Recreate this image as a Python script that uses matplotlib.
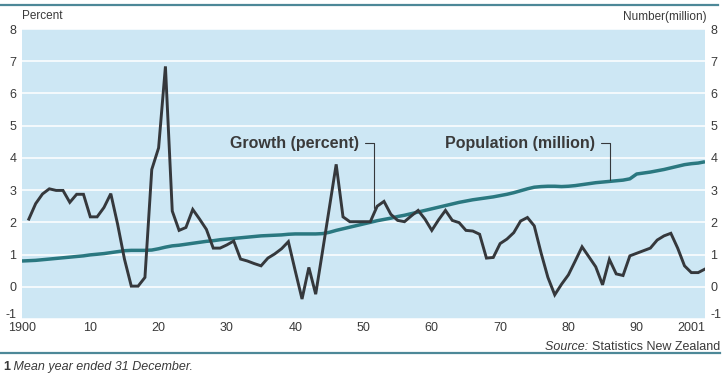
import numpy as np
import matplotlib.pyplot as plt
from matplotlib.lines import Line2D
import matplotlib.transforms as mtransforms

plt.rcParams["font.family"] = ["Liberation Sans", "DejaVu Sans"]
plt.rcParams["axes.unicode_minus"] = False

# annual growth of population, percent (year ended 31 Dec)
growth_years = np.arange(1901, 2001)
growth = [
    2.10, 2.58, 2.88, 3.04, 2.99, 2.99, 2.62, 2.87, 2.87, 2.17,
    2.17, 2.46, 2.89, 1.94, 0.86, 0.02, 0.02, 0.29, 3.64, 4.31,
    6.84, 2.35, 1.75, 1.84, 2.40, 2.10, 1.78, 1.20, 1.20, 1.30,
    1.42, 0.86, 0.80, 0.72, 0.65, 0.89, 1.02, 1.18, 1.40, 0.50,
    -0.38, 0.60, -0.23, 1.10, 2.45, 3.80, 2.17, 2.02, 2.02, 2.02,
    2.02, 2.50, 2.65, 2.25, 2.06, 2.02, 2.20, 2.37, 2.10, 1.75,
    2.08, 2.37, 2.06, 1.99, 1.75, 1.73, 1.63, 0.89, 0.91, 1.34,
    1.48, 1.68, 2.04, 2.15, 1.89, 1.05, 0.29, -0.25, 0.08, 0.37,
    0.80, 1.24, 0.93, 0.62, 0.06, 0.85, 0.40, 0.35, 0.96, 1.04,
    1.12, 1.20, 1.45, 1.58, 1.66, 1.20, 0.65, 0.44, 0.44, 0.55,
]

# mean population, million
pop_years = np.arange(1900, 2001)
population = [
    0.80, 0.81, 0.82, 0.84, 0.86, 0.88, 0.90, 0.92, 0.94, 0.96,
    0.99, 1.01, 1.03, 1.06, 1.09, 1.12, 1.13, 1.13, 1.13, 1.14,
    1.18, 1.23, 1.27, 1.29, 1.32, 1.35, 1.38, 1.41, 1.43, 1.46,
    1.48, 1.50, 1.52, 1.54, 1.56, 1.58, 1.59, 1.60, 1.61, 1.63,
    1.64, 1.64, 1.64, 1.64, 1.65, 1.69, 1.75, 1.80, 1.85, 1.90,
    1.95, 2.00, 2.05, 2.09, 2.13, 2.18, 2.22, 2.27, 2.32, 2.37,
    2.42, 2.47, 2.52, 2.57, 2.62, 2.66, 2.70, 2.73, 2.76, 2.79,
    2.83, 2.87, 2.92, 2.98, 3.04, 3.09, 3.11, 3.12, 3.12, 3.11,
    3.12, 3.14, 3.17, 3.20, 3.23, 3.25, 3.27, 3.29, 3.31, 3.35,
    3.50, 3.53, 3.56, 3.60, 3.64, 3.69, 3.74, 3.79, 3.82, 3.84,
    3.88,
]

xticks = [1900, 1910, 1920, 1930, 1940, 1950, 1960, 1970, 1980, 1990, 2000]
xtick_labels = ["1900", "10", "20", "30", "40", "50", "60", "70", "80", "90", "2001"]
yticks = list(range(-1, 9))

bg = "#cde7f4"
dark = "#35383c"
teal = "#2a7880"
rule = "#4d8898"
txt = "#3a3a3a"

fig = plt.figure(figsize=(7.26, 3.77), dpi=100)
ax = fig.add_axes([22 / 726, 1 - 319 / 377, (705 - 22) / 726, (319 - 29) / 377])
ax.set_facecolor(bg)
for s in ax.spines.values():
    s.set_visible(False)

ax.set_xlim(1900, 2000)
ax.set_ylim(-1, 8)
ax.set_yticks(yticks)
ax.set_xticks(xticks)
ax.set_xticklabels(xtick_labels)
ax.xaxis.get_majorticklabels()[-1].set_horizontalalignment("right")
ax.grid(axis="y", color="white", lw=1.1)
ax.set_axisbelow(True)
ax.tick_params(length=0, labelsize=9, labelcolor=txt, labelright=True)
ax.tick_params(axis="y", pad=4)
ax.tick_params(axis="x", pad=2)

# lift the bottom "-1" labels a little, as in the source
lift = mtransforms.ScaledTranslation(0, 4 / 72, fig.dpi_scale_trans)
for tk in ax.yaxis.get_major_ticks()[:1]:
    tk.label1.set_transform(tk.label1.get_transform() + lift)
    tk.label2.set_transform(tk.label2.get_transform() + lift)

ax.plot(pop_years, population, color=teal, lw=2.5, solid_capstyle="butt", zorder=3)
ax.plot(growth_years, growth, color=dark, lw=2.1, solid_joinstyle="miter", zorder=4)

leader = dict(arrowstyle="-", color=dark, lw=0.8, relpos=(1, 0.5), shrinkA=2, shrinkB=0,
              connectionstyle="angle,angleA=0,angleB=90,rad=0")
ax.annotate("Growth (percent)", xy=(1951.5, 2.45), xytext=(1949.4, 4.45),
            ha="right", va="center", fontsize=11.5, fontweight="bold", color=txt,
            arrowprops=leader, zorder=5)
ax.annotate("Population (million)", xy=(1986.1, 3.3), xytext=(1983.9, 4.45),
            ha="right", va="center", fontsize=11.5, fontweight="bold", color=txt,
            arrowprops=leader, zorder=5)

fig.text(22 / 726, 1 - 16 / 377, "Percent", fontsize=8.5, color=txt, va="center")
fig.text(707 / 726, 1 - 17 / 377, "Number(million)", fontsize=8.5, color=txt,
         va="center", ha="right")

# rules
fig.add_artist(Line2D([0, 718 / 726], [1 - 5 / 377] * 2, color=rule, lw=1.6))
fig.add_artist(Line2D([0, 720 / 726], [1 - 353 / 377] * 2, color=rule, lw=1.6))

src = fig.text(720 / 726, 1 - 347 / 377, "Statistics New Zealand", fontsize=9,
               color=txt, ha="right", va="center")
ax.annotate("Source: ", xy=(0, 0.5), xycoords=src, ha="right", va="center",
            fontsize=9, style="italic", color=txt, annotation_clip=False)

note = fig.text(3 / 726, 1 - 367 / 377, "1", fontsize=9, fontweight="bold",
                color=txt, va="center")
ax.annotate(" Mean year ended 31 December.", xy=(1, 0.5), xycoords=note,
            ha="left", va="center", fontsize=9, style="italic", color=txt,
            annotation_clip=False)

fig.savefig("out.png", dpi=100)
